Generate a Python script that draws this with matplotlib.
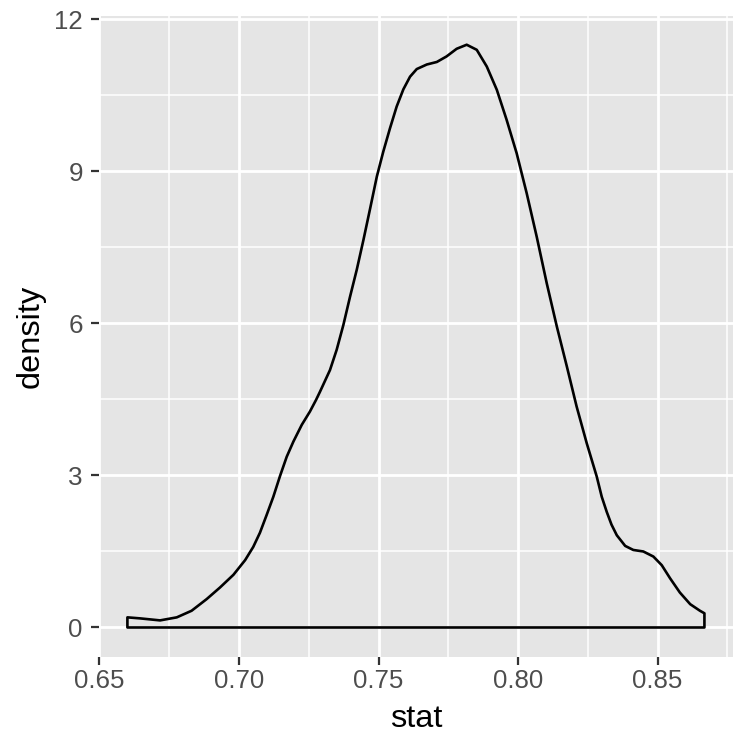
import matplotlib
matplotlib.use("Agg")
import matplotlib.pyplot as plt
from matplotlib.ticker import MultipleLocator

plt.rcParams['font.family'] = ['Liberation Sans', 'DejaVu Sans']

stat = [0.6600, 0.6645, 0.6717, 0.6777, 0.6830, 0.6884, 0.6932, 0.6980, 0.7022, 0.7051,
        0.7075, 0.7099, 0.7123, 0.7147, 0.7171, 0.7195, 0.7225, 0.7254, 0.7276, 0.7290,
        0.7326, 0.7350, 0.7374, 0.7398, 0.7422, 0.7446, 0.7470, 0.7494, 0.7517, 0.7541,
        0.7565, 0.7589, 0.7613, 0.7637, 0.7673, 0.7709, 0.7744, 0.7780, 0.7816, 0.7852,
        0.7888, 0.7924, 0.7959, 0.7995, 0.8031, 0.8067, 0.8103, 0.8139, 0.8175, 0.8210,
        0.8246, 0.8282, 0.8300, 0.8318, 0.8335, 0.8354, 0.8384, 0.8413, 0.8449, 0.8485,
        0.8515, 0.8545, 0.8580, 0.8617, 0.8652, 0.8668]
density = [0.20, 0.18, 0.14, 0.20, 0.33, 0.56, 0.79, 1.04, 1.33, 1.59,
           1.87, 2.22, 2.58, 2.99, 3.37, 3.67, 4.00, 4.26, 4.49, 4.65,
           5.08, 5.48, 5.97, 6.53, 7.06, 7.65, 8.27, 8.90, 9.39, 9.85,
           10.28, 10.62, 10.87, 11.02, 11.11, 11.16, 11.27, 11.42, 11.50, 11.40,
           11.07, 10.61, 10.02, 9.36, 8.57, 7.71, 6.79, 5.94, 5.15, 4.36,
           3.64, 2.98, 2.58, 2.28, 2.03, 1.82, 1.61, 1.53, 1.50, 1.40,
           1.23, 0.97, 0.69, 0.46, 0.33, 0.28]

x_ticks = [0.65, 0.70, 0.75, 0.80, 0.85]
x_tick_labels = ["0.65", "0.70", "0.75", "0.80", "0.85"]
y_ticks = [0, 3, 6, 9, 12]
y_tick_labels = ["0", "3", "6", "9", "12"]

fig = plt.figure(figsize=(7.5, 7.5), dpi=100)
ax = fig.add_axes([0.1314, 0.1245, 0.8463, 0.8547])
ax.set_facecolor("#E5E5E5")

xs = [stat[0]] + stat + [stat[-1]]
ys = [0] + density + [0]
ax.fill(xs, ys, facecolor="none", edgecolor="black", linewidth=1.9,
        joinstyle="round", zorder=3)

xr = stat[-1] - stat[0]
ax.set_xlim(stat[0] - 0.05 * xr, stat[-1] + 0.05 * xr)
yr = max(density)
ax.set_ylim(-0.05 * yr, yr * 1.05)

ax.set_xticks(x_ticks)
ax.set_xticklabels(x_tick_labels)
ax.set_yticks(y_ticks)
ax.set_yticklabels(y_tick_labels)
ax.xaxis.set_minor_locator(MultipleLocator(0.025))
ax.yaxis.set_minor_locator(MultipleLocator(1.5))

ax.grid(which="major", color="white", linewidth=2.0)
ax.grid(which="minor", color="white", linewidth=1.1)
ax.set_axisbelow(True)
for s in ax.spines.values():
    s.set_visible(False)

ax.tick_params(which="major", length=5.8, width=1.6, color="#333333",
               labelsize=18.6, labelcolor="#4D4D4D")
ax.tick_params(axis="x", which="major", pad=3)
ax.tick_params(axis="y", which="major", pad=5.5)
ax.tick_params(which="minor", length=0)

ax.set_xlabel("stat", fontsize=23.4, color="black", labelpad=8)
ax.set_ylabel("density", fontsize=23.4, color="black", labelpad=6)

fig.savefig("out.png", dpi=100)
